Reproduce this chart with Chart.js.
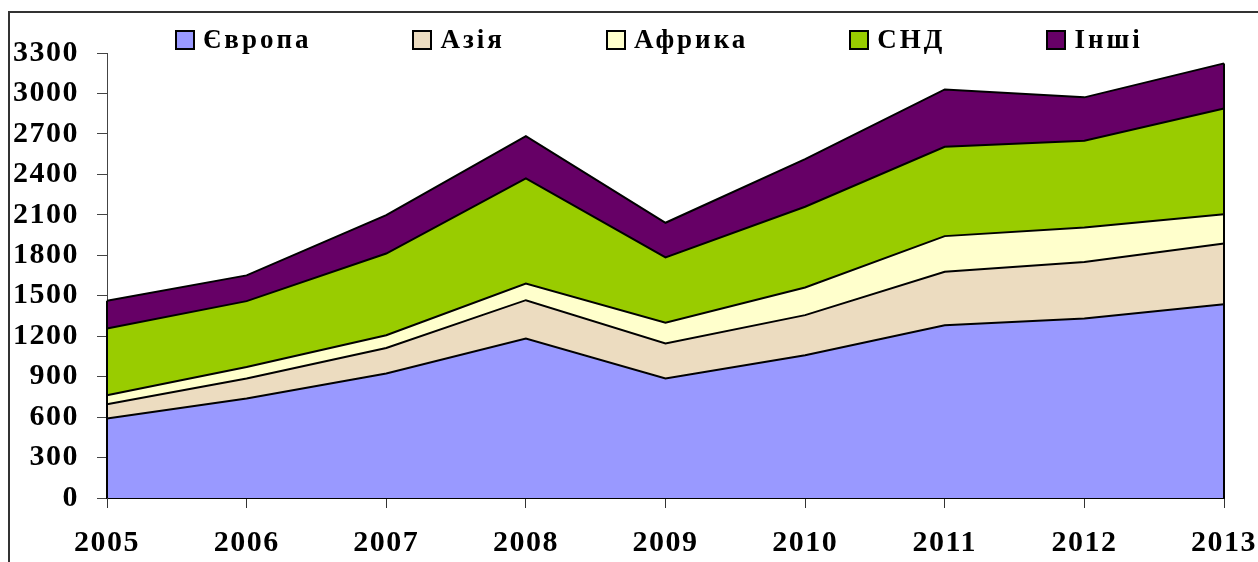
<!DOCTYPE html>
<html lang="uk">
<head>
    <meta charset="UTF-8">
    <title>Структура за регіонами, 2005-2013</title>
    <script src="https://cdn.jsdelivr.net/npm/chart.js"></script>
    <style>
        body {
            margin: 0;
            background: #fff;
            width: 1258px;
            height: 562px;
            overflow: hidden;
            position: relative;
            font-family: 'Liberation Serif', 'Times New Roman', serif;
        }

        /* outer frame, only left and top edges visible */
        .frame {
            position: absolute;
            left: 8px;
            top: 11px;
            width: 1260px;
            height: 560px;
            border-left: 2px solid #333;
            border-top: 2px solid #333;
        }

        .chart-box {
            position: absolute;
            left: 0;
            top: 0;
            width: 1258px;
            height: 562px;
        }

        #legend {
            position: absolute;
            left: 175px;
            top: 26px;
            display: flex;
            gap: 101px;
            align-items: center;
        }

        .legend-item {
            display: flex;
            align-items: center;
            gap: 8px;
            font-weight: bold;
            font-size: 27px;
            letter-spacing: 3px;
            line-height: 27px;
        }

        .legend-swatch {
            width: 16px;
            height: 16px;
            border: 2px solid #000;
        }
    </style>
</head>
<body>
    <div class="frame"></div>
    <div class="chart-box">
        <canvas id="areaChart"></canvas>
    </div>
    <div id="legend"></div>
    <script>
        const years = ['2005', '2006', '2007', '2008', '2009', '2010', '2011', '2012', '2013'];

        const europe = [590, 738, 923, 1183, 886, 1059, 1281, 1331, 1437];
        const asia = [105, 148, 190, 284, 260, 297, 396, 420, 451];
        const africa = [67, 86, 94, 124, 153, 205, 265, 255, 217];
        const cis = [495, 488, 606, 779, 485, 599, 662, 643, 784];
        const others = [205, 191, 285, 314, 257, 353, 426, 322, 334];

        const seriesNames = ['Європа', 'Азія', 'Африка', 'СНД', 'Інші'];
        const seriesColors = ['#9999ff', '#ecdcc0', '#ffffcc', '#99cc00', '#660066'];
        const seriesValues = [europe, asia, africa, cis, others];

        const axisFont = { family: "'Liberation Serif', 'Times New Roman', serif", size: 30, weight: 'bold' };

        // canvas letter spacing to mimic the spaced-out bold labels
        const spacingPlugin = {
            id: 'spacing',
            beforeLayout(chart) { chart.ctx.letterSpacing = '1.5px'; },
            beforeDraw(chart) { chart.ctx.letterSpacing = '1.5px'; }
        };

        // outline the left and right edges of the stacked area
        const edgePlugin = {
            id: 'edges',
            afterDatasetsDraw(chart) {
                const { ctx, scales: { x, y } } = chart;
                const last = years.length - 1;
                const total = i => seriesValues.reduce((s, arr) => s + arr[i], 0);
                ctx.save();
                ctx.strokeStyle = '#000';
                ctx.lineWidth = 2;
                [0, last].forEach(i => {
                    const px = x.getPixelForValue(i);
                    ctx.beginPath();
                    ctx.moveTo(px, y.getPixelForValue(0));
                    ctx.lineTo(px, y.getPixelForValue(total(i)));
                    ctx.stroke();
                });
                ctx.restore();
            }
        };

        const datasets = seriesNames.map((name, i) => ({
            label: name,
            data: seriesValues[i],
            backgroundColor: seriesColors[i],
            borderColor: '#000',
            borderWidth: 2,
            pointRadius: 0,
            tension: 0,
            fill: i === 0 ? 'origin' : '-1'
        }));

        const areaChart = new Chart(document.getElementById('areaChart').getContext('2d'), {
            type: 'line',
            data: { labels: years, datasets: datasets },
            plugins: [spacingPlugin, edgePlugin],
            options: {
                responsive: true,
                maintainAspectRatio: false,
                animation: false,
                layout: { padding: { top: 53, left: 12, right: 0, bottom: 2 } },
                plugins: {
                    legend: { display: false },
                    tooltip: { enabled: false }
                },
                scales: {
                    x: {
                        offset: false,
                        grid: { display: true, drawOnChartArea: false, drawTicks: true, tickLength: 10, color: '#333' },
                        border: { color: '#000', width: 2 },
                        ticks: { color: '#000', font: axisFont, padding: 17, maxRotation: 0, autoSkip: false },
                        afterFit(scale) {
                            scale.height = 62;
                            scale.paddingRight = 34;
                        }
                    },
                    y: {
                        stacked: true,
                        min: 0,
                        max: 3300,
                        grid: { display: true, drawOnChartArea: false, drawTicks: true, tickLength: 10, color: '#444' },
                        border: { color: '#444', width: 1 },
                        ticks: {
                            stepSize: 300,
                            color: '#000',
                            font: axisFont,
                            padding: 18,
                            callback: v => String(v)
                        },
                        afterFit(scale) {
                            scale.width = 95;
                        }
                    }
                }
            }
        });

        // html legend built from the chart's datasets
        const legendEl = document.getElementById('legend');
        areaChart.data.datasets.forEach(ds => {
            const item = document.createElement('div');
            item.className = 'legend-item';
            const sw = document.createElement('span');
            sw.className = 'legend-swatch';
            sw.style.background = ds.backgroundColor;
            const txt = document.createElement('span');
            txt.textContent = ds.label;
            item.appendChild(sw);
            item.appendChild(txt);
            legendEl.appendChild(item);
        });
    </script>
</body>
</html>
